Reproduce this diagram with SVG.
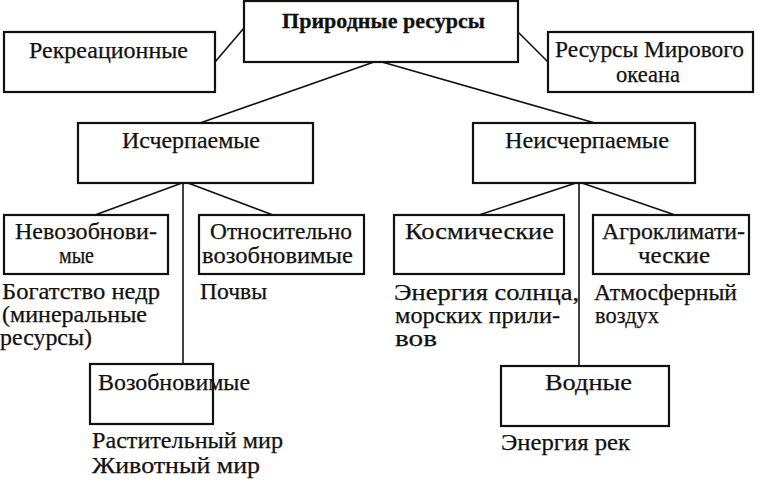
<svg xmlns="http://www.w3.org/2000/svg" width="764" height="496" viewBox="0 0 764 496">
<style>
.box{fill:#fff;stroke:#111;stroke-width:2.2}
.ln{fill:none;stroke:#111;stroke-width:1.6}
text{font-family:"Liberation Serif","DejaVu Serif",serif;font-size:23px;fill:#111;stroke:#111;stroke-width:0.25}
.b{font-weight:bold;font-size:22px;stroke-width:0.3}
</style>
<rect width="764" height="496" fill="#fff"/>
<g id="connectors">
<line class="ln" x1="215" y1="62" x2="244" y2="28"/>
<line class="ln" x1="518" y1="32" x2="548" y2="62"/>
<line class="ln" x1="374" y1="62" x2="200" y2="123"/>
<line class="ln" x1="382" y1="62" x2="595" y2="123"/>
<line class="ln" x1="183" y1="183" x2="183" y2="364"/>
<line class="ln" x1="182" y1="183" x2="95" y2="215"/>
<line class="ln" x1="188" y1="183" x2="273" y2="215"/>
<line class="ln" x1="579" y1="183" x2="579" y2="366"/>
<line class="ln" x1="576" y1="183" x2="479" y2="215"/>
<line class="ln" x1="582" y1="183" x2="675" y2="215"/>
</g>
<g id="n-prirodnye">
<rect class="box" x="244" y="1" width="274" height="61"/>
<text class="b" x="282" y="28" textLength="203" lengthAdjust="spacingAndGlyphs">Природные ресурсы</text>
</g>
<g id="n-rekreacionnye">
<rect class="box" x="4" y="32" width="211" height="60"/>
<text x="29" y="58" textLength="159" lengthAdjust="spacingAndGlyphs">Рекреационные</text>
</g>
<g id="n-okean">
<rect class="box" x="548" y="32" width="205" height="60"/>
<text x="555" y="57" textLength="189" lengthAdjust="spacingAndGlyphs">Ресурсы Мирового</text>
<text x="616" y="82" textLength="64" lengthAdjust="spacingAndGlyphs">океана</text>
</g>
<g id="n-ischerpaemye">
<rect class="box" x="78" y="123" width="235" height="60"/>
<text x="122" y="148" textLength="138" lengthAdjust="spacingAndGlyphs">Исчерпаемые</text>
</g>
<g id="n-neischerpaemye">
<rect class="box" x="473" y="123" width="222" height="60"/>
<text x="505" y="148" textLength="164" lengthAdjust="spacingAndGlyphs">Неисчерпаемые</text>
</g>
<g id="n-nevozob">
<rect class="box" x="4" y="215" width="164" height="59"/>
<text x="15" y="239" textLength="142" lengthAdjust="spacingAndGlyphs">Невозобнови-</text>
<text x="59" y="263" textLength="35" lengthAdjust="spacingAndGlyphs">мые</text>
<text x="2" y="299" textLength="158" lengthAdjust="spacingAndGlyphs">Богатство недр</text>
<text x="2" y="322" textLength="145" lengthAdjust="spacingAndGlyphs">(минеральные</text>
<text x="0" y="345" textLength="92" lengthAdjust="spacingAndGlyphs">ресурсы)</text>
</g>
<g id="n-otnos">
<rect class="box" x="199" y="215" width="165" height="59"/>
<text x="210" y="239" textLength="142" lengthAdjust="spacingAndGlyphs">Относительно</text>
<text x="202" y="263" textLength="151" lengthAdjust="spacingAndGlyphs">возобновимые</text>
<text x="200" y="299" textLength="67" lengthAdjust="spacingAndGlyphs">Почвы</text>
</g>
<g id="n-vozob">
<rect class="box" x="90" y="364" width="123" height="60"/>
<text x="98" y="390" textLength="152" lengthAdjust="spacingAndGlyphs">Возобновимые</text>
<text x="92" y="448" textLength="191" lengthAdjust="spacingAndGlyphs">Растительный мир</text>
<text x="92" y="473" textLength="168" lengthAdjust="spacingAndGlyphs">Животный мир</text>
</g>
<g id="n-kosm">
<rect class="box" x="394" y="215" width="170" height="59"/>
<text x="405" y="239" textLength="149" lengthAdjust="spacingAndGlyphs">Космические</text>
<text x="394" y="300" textLength="185" lengthAdjust="spacingAndGlyphs">Энергия солнца,</text>
<text x="395" y="323" textLength="165" lengthAdjust="spacingAndGlyphs">морских прили-</text>
<text x="395" y="346" textLength="42" lengthAdjust="spacingAndGlyphs">вов</text>
</g>
<g id="n-agro">
<rect class="box" x="593" y="215" width="156" height="59"/>
<text x="602" y="239" textLength="143" lengthAdjust="spacingAndGlyphs">Агроклимати-</text>
<text x="638" y="263" textLength="72" lengthAdjust="spacingAndGlyphs">ческие</text>
<text x="594" y="300" textLength="143" lengthAdjust="spacingAndGlyphs">Атмосферный</text>
<text x="595" y="323" textLength="64" lengthAdjust="spacingAndGlyphs">воздух</text>
</g>
<g id="n-vodnye">
<rect class="box" x="501" y="366" width="168" height="60"/>
<text x="545" y="390" textLength="87" lengthAdjust="spacingAndGlyphs">Водные</text>
<text x="501" y="450" textLength="129" lengthAdjust="spacingAndGlyphs">Энергия рек</text>
</g>
</svg>
